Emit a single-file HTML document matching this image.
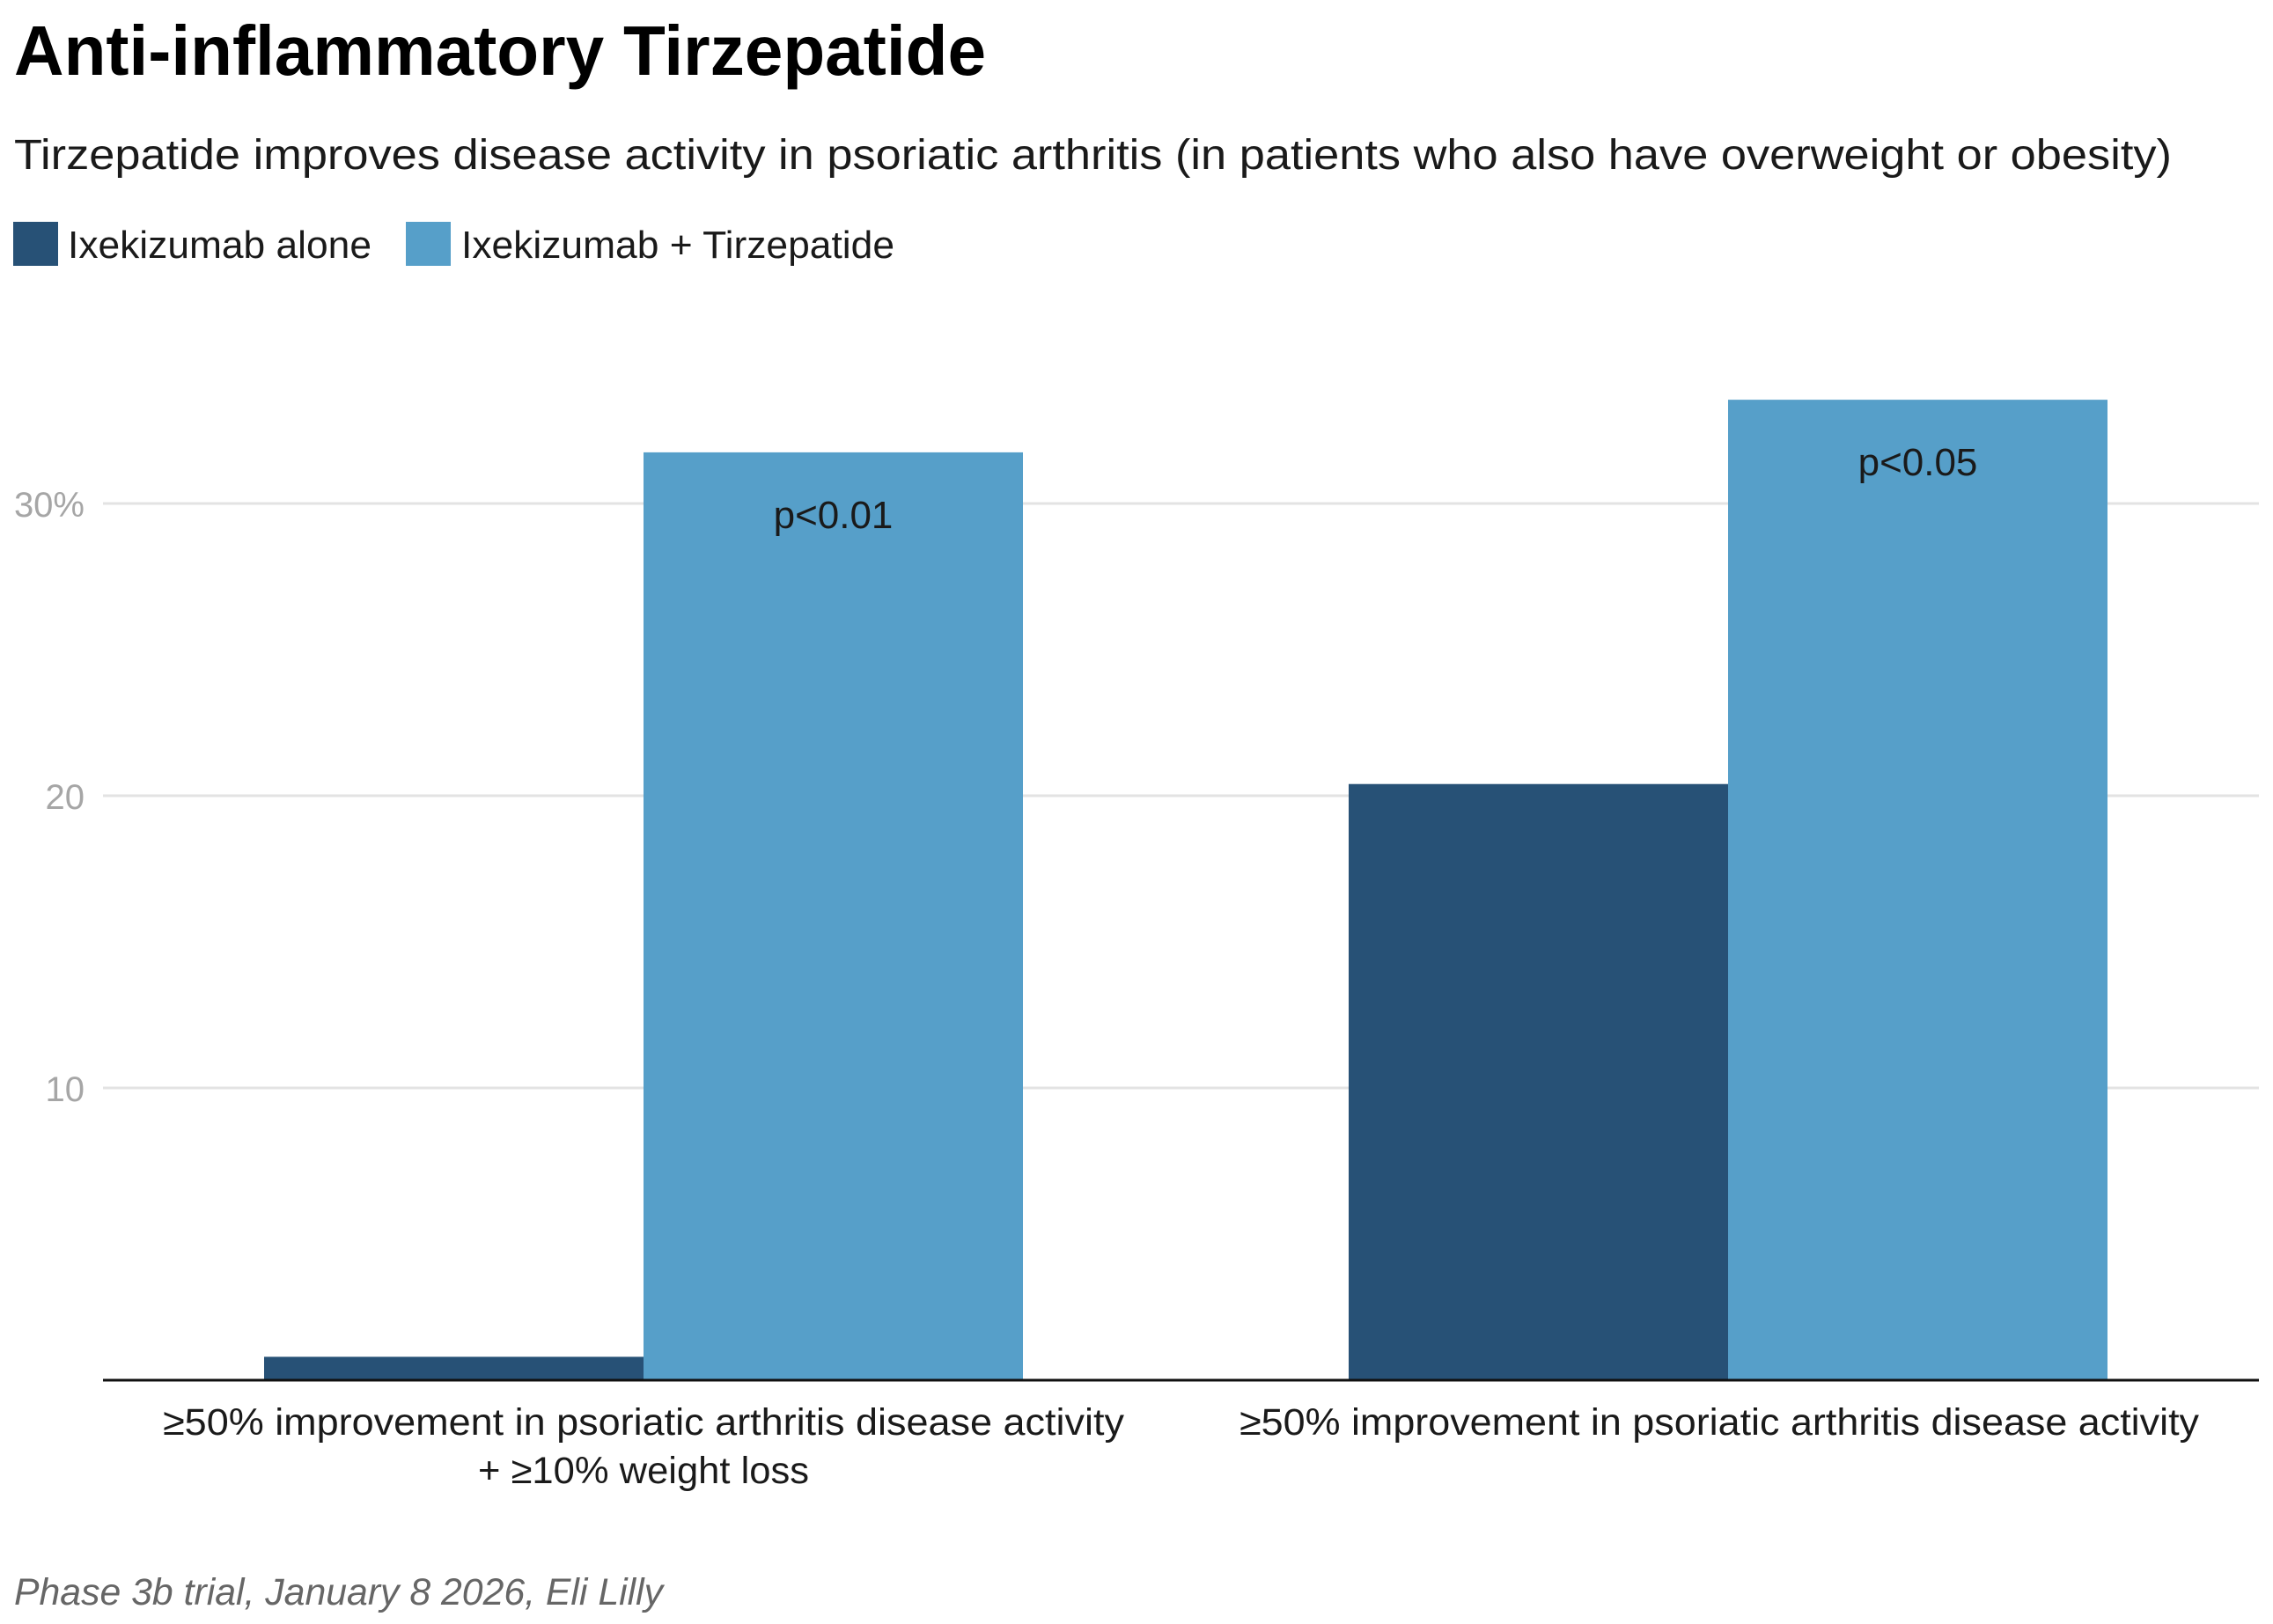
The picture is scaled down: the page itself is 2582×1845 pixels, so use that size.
<!DOCTYPE html>
<html><head><meta charset="utf-8"><style>
html,body{margin:0;padding:0;background:#fff;}
svg{display:block;font-family:"Liberation Sans",Arial,sans-serif;}
</style></head><body>
<svg id="chart" width="2582" height="1845" viewBox="0 0 2582 1845" xmlns="http://www.w3.org/2000/svg">
<rect width="2582" height="1845" fill="#fff"/>
<text x="16" y="85" font-size="80" font-weight="bold" fill="#000" textLength="1104" lengthAdjust="spacingAndGlyphs">Anti-inflammatory Tirzepatide</text>
<text x="16" y="192" font-size="48" fill="#1a1a1a" textLength="2451" lengthAdjust="spacingAndGlyphs">Tirzepatide improves disease activity in psoriatic arthritis (in patients who also have overweight or obesity)</text>
<g>
<rect x="15" y="252" width="51" height="50" fill="#275176"/>
<text x="77" y="293" font-size="44" fill="#1a1a1a" textLength="345" lengthAdjust="spacingAndGlyphs">Ixekizumab alone</text>
<rect x="461" y="252" width="51" height="50" fill="#569fc9"/>
<text x="524" y="293" font-size="44" fill="#1a1a1a" textLength="492" lengthAdjust="spacingAndGlyphs">Ixekizumab + Tirzepatide</text>
</g>
<g id="grid"></g>
<g id="bars"></g>
<g id="labels"></g>
<line x1="117" y1="1568" x2="2566" y2="1568" stroke="#111" stroke-width="3"/>
<g>
<text x="731" y="1630" font-size="43" fill="#1a1a1a" text-anchor="middle" textLength="1092" lengthAdjust="spacingAndGlyphs">≥50% improvement in psoriatic arthritis disease activity</text>
<text x="731" y="1685" font-size="43" fill="#1a1a1a" text-anchor="middle" textLength="376" lengthAdjust="spacingAndGlyphs">+ ≥10% weight loss</text>
<text x="1953" y="1630" font-size="43" fill="#1a1a1a" text-anchor="middle" textLength="1090" lengthAdjust="spacingAndGlyphs">≥50% improvement in psoriatic arthritis disease activity</text>
</g>
<text x="16" y="1823" font-size="43" font-style="italic" fill="#666" textLength="737" lengthAdjust="spacingAndGlyphs">Phase 3b trial, January 8 2026, Eli Lilly</text>
</svg>
<script>
const categories = ["≥50% improvement + ≥10% weight loss", "≥50% improvement"];
const seriesAlone = [0.8, 20.4];
const seriesCombo = [31.75, 33.55];
const pLabels = ["p<0.01", "p<0.05"];
const tickValues = [10, 20, 30];
const tickLabels = ["10", "20", "30%"];

const NS = "http://www.w3.org/2000/svg";
const baseY = 1568, pxPerUnit = 33.2;
const plotLeft = 115, plotRight = 2579;
function yScale(v){ return baseY - v * pxPerUnit; }
const band = (plotRight - plotLeft) / categories.length;
function xCenter(i){ return plotLeft + band * (i + 0.5); }
const barW = 431;
function mk(tag, attrs){ const e = document.createElementNS(NS, tag); for (const k in attrs) e.setAttribute(k, attrs[k]); return e; }

const grid = document.getElementById('grid');
tickValues.forEach((t, i) => {
  const y = yScale(t);
  const ln = mk('line', {x1: 117, x2: 2566, y1: y, y2: y, stroke: '#e3e3e3', 'stroke-width': 3});
  
  
  grid.appendChild(ln);
  const tx = mk('text', {x: 96, y: y + 15, 'font-size': 40, fill: '#a6a6a6', 'text-anchor': 'end'});
  
  
  tx.textContent = tickLabels[i];
  grid.appendChild(tx);
});

const bars = document.getElementById('bars');
const labels = document.getElementById('labels');
categories.forEach((c, i) => {
  const cx = xCenter(i);
  const y1 = yScale(seriesAlone[i]);
  const b1 = mk('rect', {x: cx - barW, y: y1, width: barW, height: baseY - y1, fill: '#275176'});
  
  
  bars.appendChild(b1);
  const y2 = yScale(seriesCombo[i]);
  const b2 = mk('rect', {x: cx, y: y2, width: barW, height: baseY - y2, fill: '#569fc9'});
  
  
  bars.appendChild(b2);
  const pl = mk('text', {x: cx + barW / 2, y: y2 + 86, 'font-size': 44, fill: '#1a1a1a', 'text-anchor': 'middle'});
  
  
  pl.textContent = pLabels[i];
  labels.appendChild(pl);
});
</script>
</body></html>
